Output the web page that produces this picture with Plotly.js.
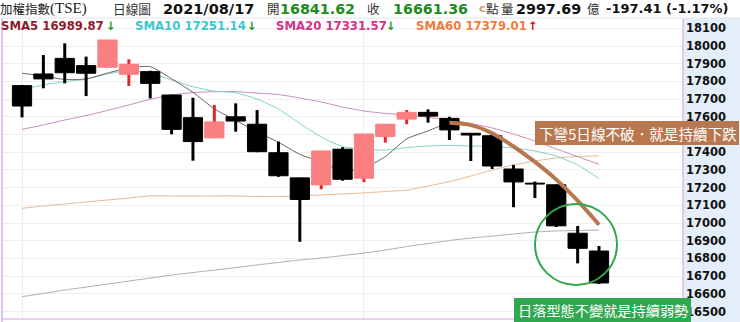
<!DOCTYPE html>
<html><head><meta charset="utf-8">
<script src="https://cdn.plot.ly/plotly-3.0.1.min.js"></script>
<style>html,body{margin:0;padding:0;background:#fff;}#chart{width:740px;height:322px;}</style>
</head><body><div id="chart"></div>
<script>
// ---- data ----
const dates = ['2021/07/09','2021/07/12','2021/07/13','2021/07/14','2021/07/15','2021/07/16','2021/07/19','2021/07/20','2021/07/21','2021/07/22','2021/07/23','2021/07/26','2021/07/27','2021/07/28','2021/07/29','2021/07/30','2021/08/02','2021/08/03','2021/08/04','2021/08/05','2021/08/06','2021/08/09','2021/08/10','2021/08/11','2021/08/12','2021/08/13','2021/08/16','2021/08/17'];
const open  = [17776,17842,17930,17889,17880,17840,17855,17723,17595,17481,17600,17558,17397,17255,17215,17417,17253,17488,17587,17625,17591,17507,17493,17305,17225,17216,16942,16841.62];
const high  = [17780,17949,18015,17940,18034,17925,17860,17725,17708,17667,17676,17638,17460,17255,17407,17428,17503,17558,17638,17642,17600,17507,17505,17328,17234,17216,16983,16870];
const low   = [17597,17761,17789,17717,17880,17774,17704,17501,17352,17481,17516,17400,17261,16894,17191,17239,17231,17454,17558,17567,17469,17350,17305,17089,17141,16977,16772,16655];
const close = [17661,17814,17849,17846,18034,17897,17789,17529,17460,17571,17576,17403,17267,17133,17407,17247,17503,17558,17625,17604,17526,17497,17322,17232,17220,16984,16857,16661.36];
const sma5   = [17846,17831,17811,17814,17847,17876,17883,17815,17738,17645,17580,17515,17456,17388,17345,17293,17311,17375,17475,17520,17566,17553,17507,17432,17345,17245,17126,16990];
const sma10  = [17755,17780,17799,17812,17842,17862,17846,17808,17770,17745,17736,17700,17644,17563,17486,17432,17416,17412,17426,17435,17438,17435,17431,17424,17407,17378,17328,17251];
const sma20  = [17529,17554,17582,17607,17636,17667,17699,17723,17737,17742,17742,17734,17726,17706,17684,17655,17633,17619,17610,17597,17582,17562,17537,17503,17463,17418,17375,17332];
const sma60  = [17083,17096,17107,17119,17130,17141,17153,17153,17153,17153,17153,17150,17150,17153,17158,17164,17170,17178,17186,17209,17234,17265,17299,17328,17350,17367,17376,17379];
const sma120 = [16584,16602,16621,16638,16655,16672,16689,16706,16720,16734,16748,16763,16777,16791,16802,16816,16830,16847,16867,16884,16901,16915,16926,16938,16949,16955,16958,16960];
const tickValues = [16500,16600,16700,16800,16900,17000,17100,17200,17300,17400,17500,17600,17700,17800,17900,18000,18100];
const monthGrid = ['2021/07/09','2021/08/02'];
const trendStart = 20; // SMA5 highlighted from this bar onward
const headerRow = [
  {t:'加權指數', x:0, f:'Noto Sans CJK TC', s:12.5, c:'#222'},
  {t:'(TSE)', x:50, f:'Liberation Serif', s:15, c:'#222'},
  {t:'日線圖', x:113, f:'Noto Sans CJK TC', s:12.7, c:'#333'},
  {t:'2021/08/17', x:163, f:'DejaVu Sans', s:14.5, c:'#111', b:1},
  {t:'開', x:267, f:'Noto Sans CJK TC', s:12.5, c:'#333'},
  {t:'16841.62', x:280, f:'DejaVu Sans', s:14.3, c:'#1e8c1e', b:1},
  {t:'收', x:367, f:'Noto Sans CJK TC', s:12.5, c:'#333'},
  {t:'16661.36', x:393, f:'DejaVu Sans', s:14.3, c:'#1e8c1e', b:1},
  {t:'c', x:479, f:'DejaVu Sans', s:11, c:'#c9a067', b:1},
  {t:'點', x:486, f:'Noto Sans CJK TC', s:12.5, c:'#333'},
  {t:'量', x:501, f:'Noto Sans CJK TC', s:12.5, c:'#333'},
  {t:'2997.69', x:516, f:'DejaVu Sans', s:14.3, c:'#111', b:1},
  {t:'億', x:587, f:'Noto Sans CJK TC', s:12.5, c:'#333'},
  {t:'-197.41 (-1.17%)', x:606, f:'DejaVu Sans', s:13, c:'#111', b:1}
];
const smaRow = [
  {t:'SMA5 16989.87', x:1, c:'#8e1b2b'}, {t:'↓', x:106, c:'#1e9a1e'},
  {t:'SMA10 17251.14', x:135, c:'#3cc6cf'}, {t:'↓', x:247, c:'#1e9a1e'},
  {t:'SMA20 17331.57', x:276, c:'#d4328a'}, {t:'↓', x:386, c:'#1e9a1e'},
  {t:'SMA60 17379.01', x:416, c:'#ef7b3b'}, {t:'↑', x:528, c:'#e01010'}
];
const note1 = '下彎5日線不破．就是持續下跌';
const note2 = '日落型態不變就是持續弱勢';

// ---- geometry helpers (pixel -> paper) ----
const PL=2, PR=683, PT=18, PB=319;
const px = x => (x-PL)/(PR-PL);
const py = y => (PB-y)/(PB-PT);
const yRange = [16457.6, 18158.2];
const xRange = [-0.936, 30.93];

const up = open.map((o,i)=>close[i]>o);
const bodyBase = open.map((o,i)=>Math.min(o,close[i]));
const bodyLen = open.map((o,i)=>Math.abs(close[i]-o));
const wickLen = high.map((h,i)=>h-low[i]);
const bodyCol = up.map(u=>u?'#fa7f80':'#000000');
const wickCol = up.map(u=>u?'#e3262a':'#000000');

const lineTrace = (y,color,w) => ({type:'scatter',mode:'lines',x:dates,y:y,xaxis:'x',yaxis:'y',
  line:{color:color,width:w||1,shape:'spline',smoothing:0.6},hoverinfo:'skip',showlegend:false});

const traces = [
  lineTrace(sma120,'#b7a7b9'),
  lineTrace(sma60,'#e9b894'),
  lineTrace(sma20,'#c98bbd'),
  lineTrace(sma10,'#7fd2c6'),
  lineTrace(sma5,'#756060'),
  {type:'bar',x:dates,y:wickLen,base:low,width:0.14,xaxis:'x',yaxis:'y2',
   marker:{color:wickCol,line:{width:0}},hoverinfo:'skip',showlegend:false},
  {type:'bar',x:dates,y:bodyLen,base:bodyBase,width:0.9,xaxis:'x',yaxis:'y2',
   marker:{color:bodyCol,line:{width:1,color:bodyCol}},hoverinfo:'skip',showlegend:false},
  {type:'scatter',mode:'lines',x:dates.slice(trendStart),y:sma5.slice(trendStart),xaxis:'x',yaxis:'y2',
   line:{color:'#b8784f',width:4,shape:'spline',smoothing:0.8},hoverinfo:'skip',showlegend:false}
];

const ann = [];
headerRow.forEach(h=>ann.push({xref:'paper',yref:'paper',x:px(h.x-1),y:py(9),xanchor:'left',yanchor:'middle',
  text:h.b?('<b>'+h.t+'</b>'):h.t,showarrow:false,borderpad:0,font:{family:h.f,size:h.s,color:h.c}}));
smaRow.forEach(h=>ann.push({xref:'paper',yref:'paper',x:px(h.x-1),y:py(26),xanchor:'left',yanchor:'middle',
  text:'<b>'+h.t+'</b>',showarrow:false,borderpad:0,font:{family:'DejaVu Sans',size:11.7,color:h.c}}));
ann.push({xref:'paper',yref:'paper',x:px(638),y:py(133),xanchor:'center',yanchor:'middle',text:note1,showarrow:false,
  borderpad:0,font:{family:'Noto Sans CJK TC',size:14.6,color:'#ffffff'}});
ann.push({xref:'paper',yref:'paper',x:px(602.5),y:py(310),xanchor:'center',yanchor:'middle',text:note2,showarrow:false,
  borderpad:0,font:{family:'Noto Sans CJK TC',size:14.2,color:'#ffffff'}});

const rect = (x0,y0,x1,y1,fill,line,layer) => ({type:'rect',xref:'paper',yref:'paper',x0:px(x0),x1:px(x1),y0:py(y1),y1:py(y0),
  fillcolor:fill,line:line||{width:0},layer:layer||'above'});
const seg = (x0,y0,x1,y1,color,w) => ({type:'line',xref:'paper',yref:'paper',x0:px(x0),x1:px(x1),y0:py(y0),y1:py(y1),
  line:{color:color,width:w||1},layer:'above'});

const shapes = [
  rect(683,18,740,322,'#e4eef9',null,'below'),
  seg(2,18,2,322,'#d6b3e8',1.5),
  seg(683,18,683,322,'#dcaee2',1.2),
  seg(2,319,683,319,'#cda6de',1.2),
  seg(2,18,740,18,'#e4e4ea',1),
  rect(535,121,739,145,'#b9774f'),
  rect(514,298,691,322,'#2fa84f'),
  {type:'circle',xref:'paper',yref:'paper',x0:px(535),x1:px(617),y0:py(285),y1:py(204),
   line:{color:'#30a84c',width:2},fillcolor:'rgba(0,0,0,0)',layer:'above'}
];

const layout = {
  width:740,height:322,margin:{l:PL,r:740-PR,t:PT,b:322-PB,pad:0},
  paper_bgcolor:'#ffffff',plot_bgcolor:'#ffffff',showlegend:false,hovermode:false,
  barmode:'overlay',
  xaxis:{type:'category',range:xRange,tickvals:monthGrid,showticklabels:false,ticks:'',showgrid:true,
    gridcolor:'#ececec',gridwidth:1,zeroline:false,showline:false,fixedrange:true},
  yaxis:{range:yRange,side:'right',tickvals:tickValues,ticktext:tickValues.map(String),ticks:'',
    showgrid:true,gridcolor:'#efefef',gridwidth:1,zeroline:false,showline:false,
    tickfont:{family:'DejaVu Sans',size:11.5,color:'#111',weight:'bold'},ticklabelstandoff:2,fixedrange:true},
  yaxis2:{range:yRange,overlaying:'y',visible:false,fixedrange:true},
  annotations:ann,shapes:shapes
};
Plotly.newPlot('chart',traces,layout,{displayModeBar:false,staticPlot:true});
</script></body></html>
